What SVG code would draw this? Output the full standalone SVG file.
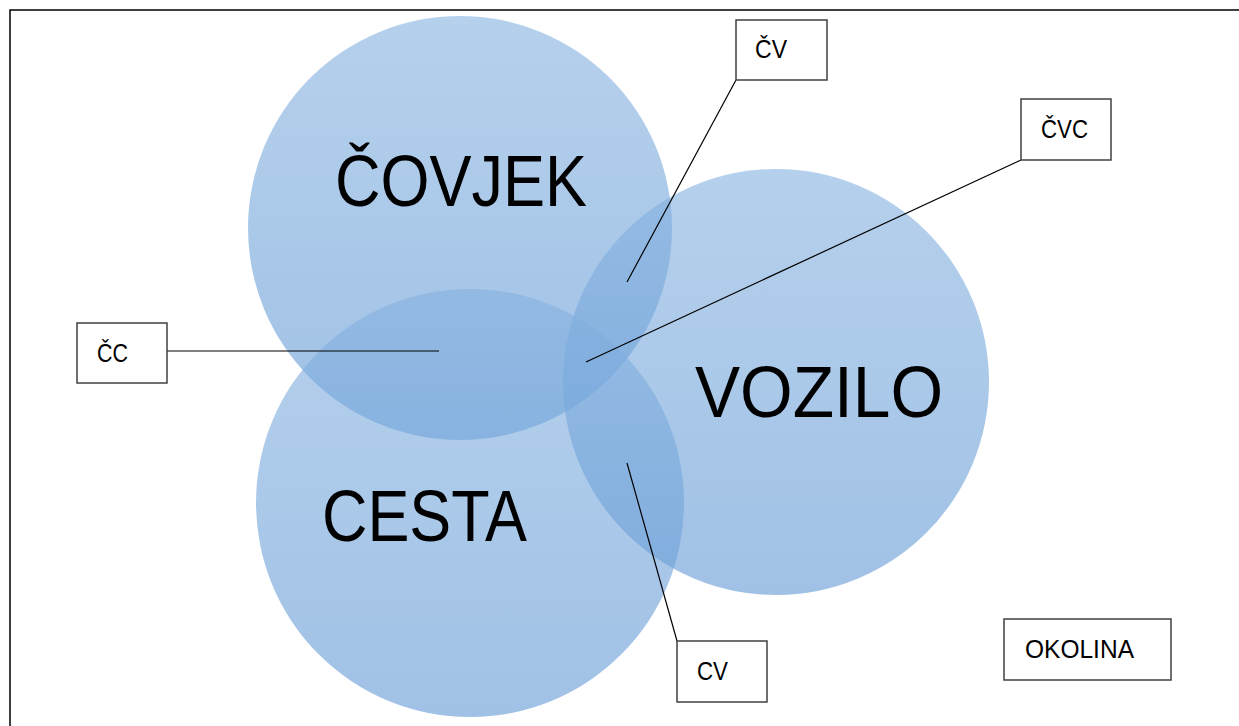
<svg xmlns="http://www.w3.org/2000/svg" width="1239" height="726" viewBox="0 0 1239 726">
<style>
.big{font-family:"Liberation Sans",Arial,sans-serif;font-size:72px;fill:#000}
.lbl{font-family:"Liberation Sans",Arial,sans-serif;font-size:25px;fill:#000}
.box{fill:#fff;stroke:#404040;stroke-width:1.5}
.ln{stroke:#000;stroke-width:1.2;fill:none}
.c{fill:url(#g)}
</style>
<defs>
<linearGradient id="g" x1="0" y1="0" x2="0" y2="1">
<stop offset="0" stop-color="#84b1df" stop-opacity="0.6"/>
<stop offset="1" stop-color="#6198d5" stop-opacity="0.6"/>
</linearGradient>
</defs>
<rect width="1239" height="726" fill="#fff"/>
<path d="M10,726 V10 H1239" fill="none" stroke="#000" stroke-width="1.5"/>
<g id="covjek"><circle class="c" cx="460" cy="228" r="212"/><text class="big" x="335" y="206" textLength="252" lengthAdjust="spacingAndGlyphs">ČOVJEK</text></g>
<g id="vozilo"><circle class="c" cx="776" cy="382" r="213"/><text class="big" x="695" y="417" textLength="248" lengthAdjust="spacingAndGlyphs">VOZILO</text></g>
<g id="cesta"><circle class="c" cx="470" cy="503" r="214"/><text class="big" x="322" y="541" textLength="205" lengthAdjust="spacingAndGlyphs">CESTA</text></g>
<g id="connectors">
<line class="ln" x1="736" y1="80" x2="627" y2="282"/>
<line class="ln" x1="1021" y1="160" x2="586" y2="362"/>
<line class="ln" x1="167" y1="351" x2="439" y2="351"/>
<line class="ln" x1="677" y1="641" x2="627" y2="463"/>
</g>
<g id="cv-top"><rect class="box" x="736" y="20" width="91" height="60"/><text class="lbl" x="755" y="58" textLength="32" lengthAdjust="spacingAndGlyphs">ČV</text></g>
<g id="cvc"><rect class="box" x="1021" y="99" width="90" height="61"/><text class="lbl" x="1041" y="138" textLength="47" lengthAdjust="spacingAndGlyphs">ČVC</text></g>
<g id="cc"><rect class="box" x="77" y="323" width="90" height="60"/><text class="lbl" x="97" y="362" textLength="31" lengthAdjust="spacingAndGlyphs">ČC</text></g>
<g id="cv"><rect class="box" x="677" y="641" width="90" height="61"/><text class="lbl" x="697" y="680" textLength="31" lengthAdjust="spacingAndGlyphs">CV</text></g>
<g id="okolina"><rect class="box" x="1004" y="619" width="167" height="61"/><text class="lbl" x="1025" y="658" textLength="109" lengthAdjust="spacingAndGlyphs">OKOLINA</text></g>
</svg>
